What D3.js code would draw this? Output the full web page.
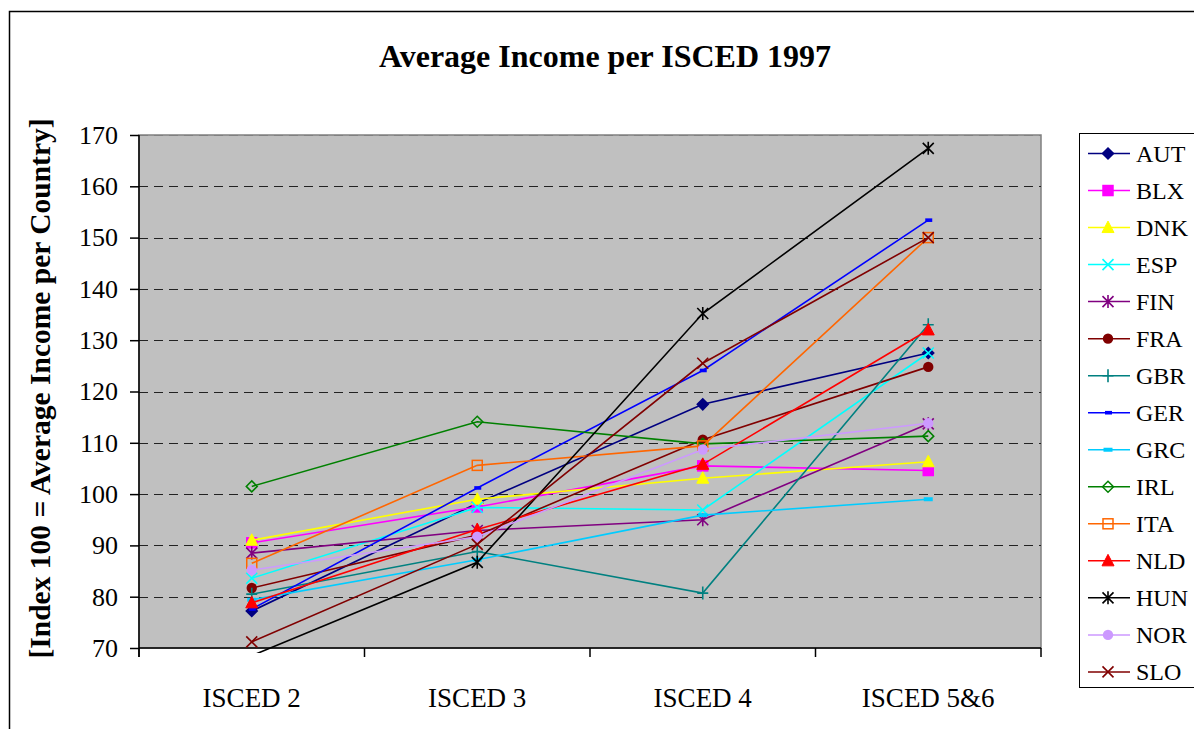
<!DOCTYPE html>
<html>
<head>
<meta charset="utf-8">
<script src="https://cdn.jsdelivr.net/npm/d3@7"></script>
<style>
  body { margin: 0; background: #fff; }
  svg { display: block; font-family: "Liberation Serif", "Times New Roman", serif; }
</style>
</head>
<body>
<svg id="chart" width="1194" height="729"></svg>
<script>
// categories on the x axis
var categories = ["ISCED 2", "ISCED 3", "ISCED 4", "ISCED 5&6"];
var yTicks = [70, 80, 90, 100, 110, 120, 130, 140, 150, 160, 170];

// one array per country
var AUT = [77.2, 98.2, 117.5, 127.5];
var BLX = [90.5, 97.5, 105.5, 104.6];
var DNK = [91.0, 99.0, 103.1, 106.3];
var ESP = [83.6, 97.4, 96.9, 127.5];
var FIN = [88.5, 92.9, 95.0, 113.7];
var FRA = [81.7, 92.0, 110.6, 124.8];
var GBR = [80.5, 88.8, 80.7, 133.0];
var GER = [77.6, 101.2, 124.1, 153.4];
var GRC = [79.4, 87.2, 95.9, 99.0];
var IRL = [101.5, 114.1, 109.8, 111.3];
var ITA = [86.5, 105.6, 109.4, 150.0];
var NLD = [78.8, 93.1, 105.8, 132.0];
var HUN = [68.5, 86.7, 135.2, 167.4];
var NOR = [85.2, 91.7, 108.7, 113.8];
var SLO = [71.2, 90.2, 125.5, 150.0];

var series = [
  {name: "AUT", values: AUT, color: "#000080", marker: "diamond"},
  {name: "BLX", values: BLX, color: "#FF00FF", marker: "square"},
  {name: "DNK", values: DNK, color: "#FFFF00", marker: "triangle"},
  {name: "ESP", values: ESP, color: "#00FFFF", marker: "x"},
  {name: "FIN", values: FIN, color: "#800080", marker: "star"},
  {name: "FRA", values: FRA, color: "#800000", marker: "circle"},
  {name: "GBR", values: GBR, color: "#008080", marker: "plus"},
  {name: "GER", values: GER, color: "#0000FF", marker: "shortdash"},
  {name: "GRC", values: GRC, color: "#00CCFF", marker: "dash"},
  {name: "IRL", values: IRL, color: "#008000", marker: "opendiamond"},
  {name: "ITA", values: ITA, color: "#FF6600", marker: "opensquare"},
  {name: "NLD", values: NLD, color: "#FF0000", marker: "triangle"},
  {name: "HUN", values: HUN, color: "#000000", marker: "star"},
  {name: "NOR", values: NOR, color: "#CC99FF", marker: "circle"},
  {name: "SLO", values: SLO, color: "#800000", marker: "x"}
];

var svg = d3.select("#chart");

var plotLeft = 139, plotRight = 1041, plotTop = 135, plotBottom = 648;

var x = d3.scaleBand().domain(categories).range([plotLeft, plotRight]);
var y = d3.scaleLinear().domain([70, 170]).range([plotBottom, plotTop]);

// outer frame
svg.append("rect")
  .attr("x", 9.5).attr("y", 11.5).attr("width", 1300).attr("height", 800)
  .attr("fill", "none").attr("stroke", "#000").attr("stroke-width", 1.5);

// title
svg.append("text")
  .attr("x", 605).attr("y", 67)
  .attr("text-anchor", "middle")
  .attr("font-size", 32).attr("font-weight", "bold")
  .text("Average Income per ISCED 1997");

// plot area
svg.append("rect")
  .attr("x", plotLeft).attr("y", plotTop).attr("width", plotRight - plotLeft).attr("height", plotBottom - plotTop)
  .attr("fill", "#C0C0C0").attr("stroke", "#808080").attr("stroke-width", 1.5);

// gridlines
svg.append("g").selectAll("line")
  .data(yTicks.slice(1))
  .enter().append("line")
  .attr("x1", plotLeft).attr("x2", plotRight)
  .attr("y1", function(d){ return Math.round(y(d)) + 0.5; })
  .attr("y2", function(d){ return Math.round(y(d)) + 0.5; })
  .attr("stroke", function(d){ return d == 170 ? "#808080" : "#222"; })
  .attr("stroke-width", 1.2)
  .attr("stroke-dasharray", "9,6");

// y axis
var yAxis = d3.axisLeft(y).tickValues(yTicks).tickSize(9).tickPadding(12).tickFormat(d3.format("d"));
var gy = svg.append("g").attr("transform", "translate(" + plotLeft + ",0)").call(yAxis);
gy.select(".domain").attr("stroke", "#000").attr("stroke-width", 1.5).attr("d", "M0," + plotTop + "V" + (plotBottom + 9));
gy.selectAll(".tick line").attr("stroke", "#000").attr("stroke-width", 1.5);
gy.selectAll("text").attr("font-size", 26).attr("font-family", "Liberation Serif").attr("fill", "#000");

// x axis, ticks between categories
var gx = svg.append("g").attr("transform", "translate(0," + plotBottom + ")");
gx.append("line").attr("x1", plotLeft).attr("x2", plotRight).attr("stroke", "#000").attr("stroke-width", 1.5);
gx.selectAll(".tk")
  .data(categories.map(function(c){ return x(c); }).concat([plotRight]))
  .enter().append("line")
  .attr("x1", function(d){ return d; }).attr("x2", function(d){ return d; })
  .attr("y1", 0).attr("y2", 9)
  .attr("stroke", "#000").attr("stroke-width", 1.5);
gx.selectAll(".lb")
  .data(categories)
  .enter().append("text")
  .attr("x", function(d){ return x(d) + x.bandwidth() / 2; })
  .attr("y", 59)
  .attr("text-anchor", "middle")
  .attr("font-size", 27)
  .text(function(d){ return d; });

// y axis title
svg.append("text")
  .attr("transform", "translate(50," + ((plotTop + plotBottom) / 2 - 3) + ") rotate(-90)")
  .attr("text-anchor", "middle")
  .attr("font-size", 29.5).attr("font-weight", "bold")
  .text("[Index 100 = Average Income per Country]");

// marker drawing
function drawMarker(g, type, color, cx, cy) {
  var s = 5.5;
  if (type == "diamond" || type == "opendiamond") {
    g.append("path")
      .attr("d", "M" + cx + "," + (cy - s) + "L" + (cx + s) + "," + cy + "L" + cx + "," + (cy + s) + "L" + (cx - s) + "," + cy + "Z")
      .attr("fill", type == "diamond" ? color : "none").attr("stroke", color).attr("stroke-width", 1.5);
  } else if (type == "square" || type == "opensquare") {
    g.append("rect").attr("x", cx - 5).attr("y", cy - 5).attr("width", 10).attr("height", 10)
      .attr("fill", type == "square" ? color : "none").attr("stroke", color).attr("stroke-width", 1.5);
  } else if (type == "triangle") {
    g.append("path")
      .attr("d", "M" + cx + "," + (cy - 6.5) + "L" + (cx + 6) + "," + (cy + 5) + "L" + (cx - 6) + "," + (cy + 5) + "Z")
      .attr("fill", color).attr("stroke", color);
  } else if (type == "circle") {
    g.append("circle").attr("cx", cx).attr("cy", cy).attr("r", 5.2).attr("fill", color);
  } else if (type == "x" || type == "star" || type == "plus") {
    var d = "";
    if (type != "plus") d += "M" + (cx - s) + "," + (cy - s) + "L" + (cx + s) + "," + (cy + s) + "M" + (cx - s) + "," + (cy + s) + "L" + (cx + s) + "," + (cy - s);
    if (type != "x") d += "M" + cx + "," + (cy - 6.5) + "L" + cx + "," + (cy + 6.5);
    if (type == "plus") d += "M" + (cx - 5.5) + "," + cy + "L" + (cx + 5.5) + "," + cy;
    g.append("path").attr("d", d).attr("stroke", color).attr("stroke-width", 1.6).attr("fill", "none");
  } else if (type == "shortdash") {
    g.append("rect").attr("x", cx - 3).attr("y", cy - 1.8).attr("width", 7).attr("height", 3.6).attr("fill", color);
  } else if (type == "dash") {
    g.append("rect").attr("x", cx - 4.5).attr("y", cy - 2).attr("width", 9).attr("height", 4).attr("fill", color);
  }
}

// clip slightly beyond the plot so the off-scale point is cut like in the original
svg.append("clipPath").attr("id", "clip")
  .append("rect").attr("x", 0).attr("y", plotTop - 20).attr("width", 1194).attr("height", plotBottom - plotTop + 25);

var lineGen = d3.line()
  .x(function(d, i){ return x(categories[i]) + x.bandwidth() / 2; })
  .y(function(d){ return y(d); });

var plot = svg.append("g").attr("clip-path", "url(#clip)");
series.forEach(function(s){
  var g = plot.append("g");
  g.append("path").attr("d", lineGen(s.values))
    .attr("fill", "none").attr("stroke", s.color).attr("stroke-width", 1.6);
  s.values.forEach(function(v, i){
    if (v < 70) return;
    drawMarker(g, s.marker, s.color, x(categories[i]) + x.bandwidth() / 2, y(v));
  });
});

// legend
var lg = svg.append("g");
lg.append("rect").attr("x", 1079.5).attr("y", 133.5).attr("width", 200).attr("height", 554)
  .attr("fill", "#fff").attr("stroke", "#000").attr("stroke-width", 1);
series.forEach(function(s, i){
  var ly = 153.5 + i * 37.03;
  lg.append("line").attr("x1", 1088).attr("x2", 1130).attr("y1", ly).attr("y2", ly)
    .attr("stroke", s.color).attr("stroke-width", 1.5);
  drawMarker(lg, s.marker, s.color, 1108, ly);
  lg.append("text").attr("x", 1136).attr("y", ly + 8.5).attr("font-size", 24).text(s.name);
});
</script>
</body>
</html>
